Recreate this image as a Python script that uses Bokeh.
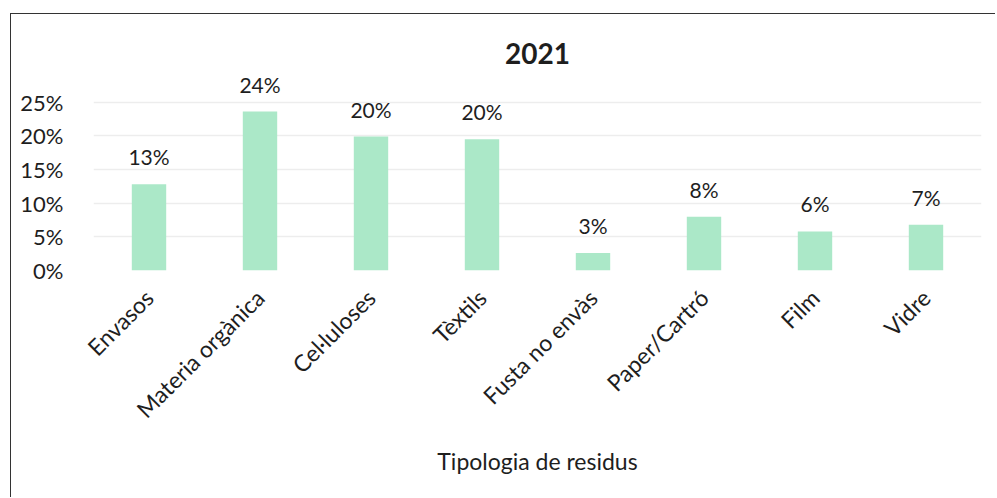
from bokeh.plotting import figure
from bokeh.models import ColumnDataSource, LabelSet, FixedTicker, CustomJSTickFormatter
from bokeh.core.properties import value
from bokeh.embed import file_html
from bokeh.resources import INLINE
import math

categories = ["Envasos", "Materia orgànica", "Cel·luloses", "Tèxtils",
              "Fusta no envàs", "Paper/Cartró", "Film", "Vidre"]
values = [12.8, 23.6, 19.9, 19.5, 2.6, 8.0, 5.8, 6.8]
labels = ["13%", "24%", "20%", "20%", "3%", "8%", "6%", "7%"]
y_ticks = [0, 5, 10, 15, 20, 25]
title_text = "2021"
x_title = "Tipologia de residus"

FONT = "Lato"
TXT = "#1e1e1e"

src = ColumnDataSource(dict(cat=categories, val=values, lab=labels))

p = figure(x_range=categories, y_range=(0, 30), width=985, height=484,
           output_backend="svg", toolbar_location=None, title=title_text,
           min_border_left=82, min_border_right=15, min_border_top=54,
           min_border_bottom=228)
p.margin = (13, 0, 0, 10)
p.styles = {"border-left": "1.5px solid #333", "border-top": "1.5px solid #333"}

p.vbar(x="cat", top="val", width=0.31, source=src, color="#abe8c8", line_color=None)

p.add_layout(LabelSet(x="cat", y="val", text="lab", source=src, y_offset=15,
                      text_align="center", text_baseline="bottom",
                      text_font=value(FONT), text_font_size="21px", text_color=TXT))

p.title.align = "center"
p.title.text_font = FONT
p.title.text_font_size = "28px"
p.title.text_font_style = "bold"
p.title.text_color = TXT
p.title.standoff = 9

p.outline_line_color = None
p.background_fill_color = "white"
p.border_fill_color = "white"

p.xgrid.grid_line_color = None
p.ygrid.grid_line_color = "#ededed"
p.ygrid.grid_line_width = 1.5

p.yaxis.ticker = FixedTicker(ticks=y_ticks)
p.yaxis.formatter = CustomJSTickFormatter(code="return tick + '%';")
p.yaxis.axis_line_color = None
p.yaxis.major_tick_line_color = None
p.yaxis.minor_tick_line_color = None
p.yaxis.major_label_standoff = 24
p.yaxis.major_label_text_font = FONT
p.yaxis.major_label_text_font_size = "22px"
p.yaxis.major_label_text_color = TXT

p.xaxis.axis_line_color = None
p.xaxis.major_tick_line_color = None
p.xaxis.minor_tick_line_color = None
p.xaxis.major_label_orientation = math.pi / 4
p.xaxis.major_label_standoff = 17
p.xaxis.major_label_text_font = FONT
p.xaxis.major_label_text_font_size = "23px"
p.xaxis.major_label_text_color = TXT
p.xaxis.axis_label = x_title
p.xaxis.axis_label_text_font = FONT
p.xaxis.axis_label_text_font_size = "23px"
p.xaxis.axis_label_text_font_style = "normal"
p.xaxis.axis_label_text_color = TXT
p.xaxis.axis_label_standoff = 11

open("out.html", "w").write(file_html(p, INLINE))
